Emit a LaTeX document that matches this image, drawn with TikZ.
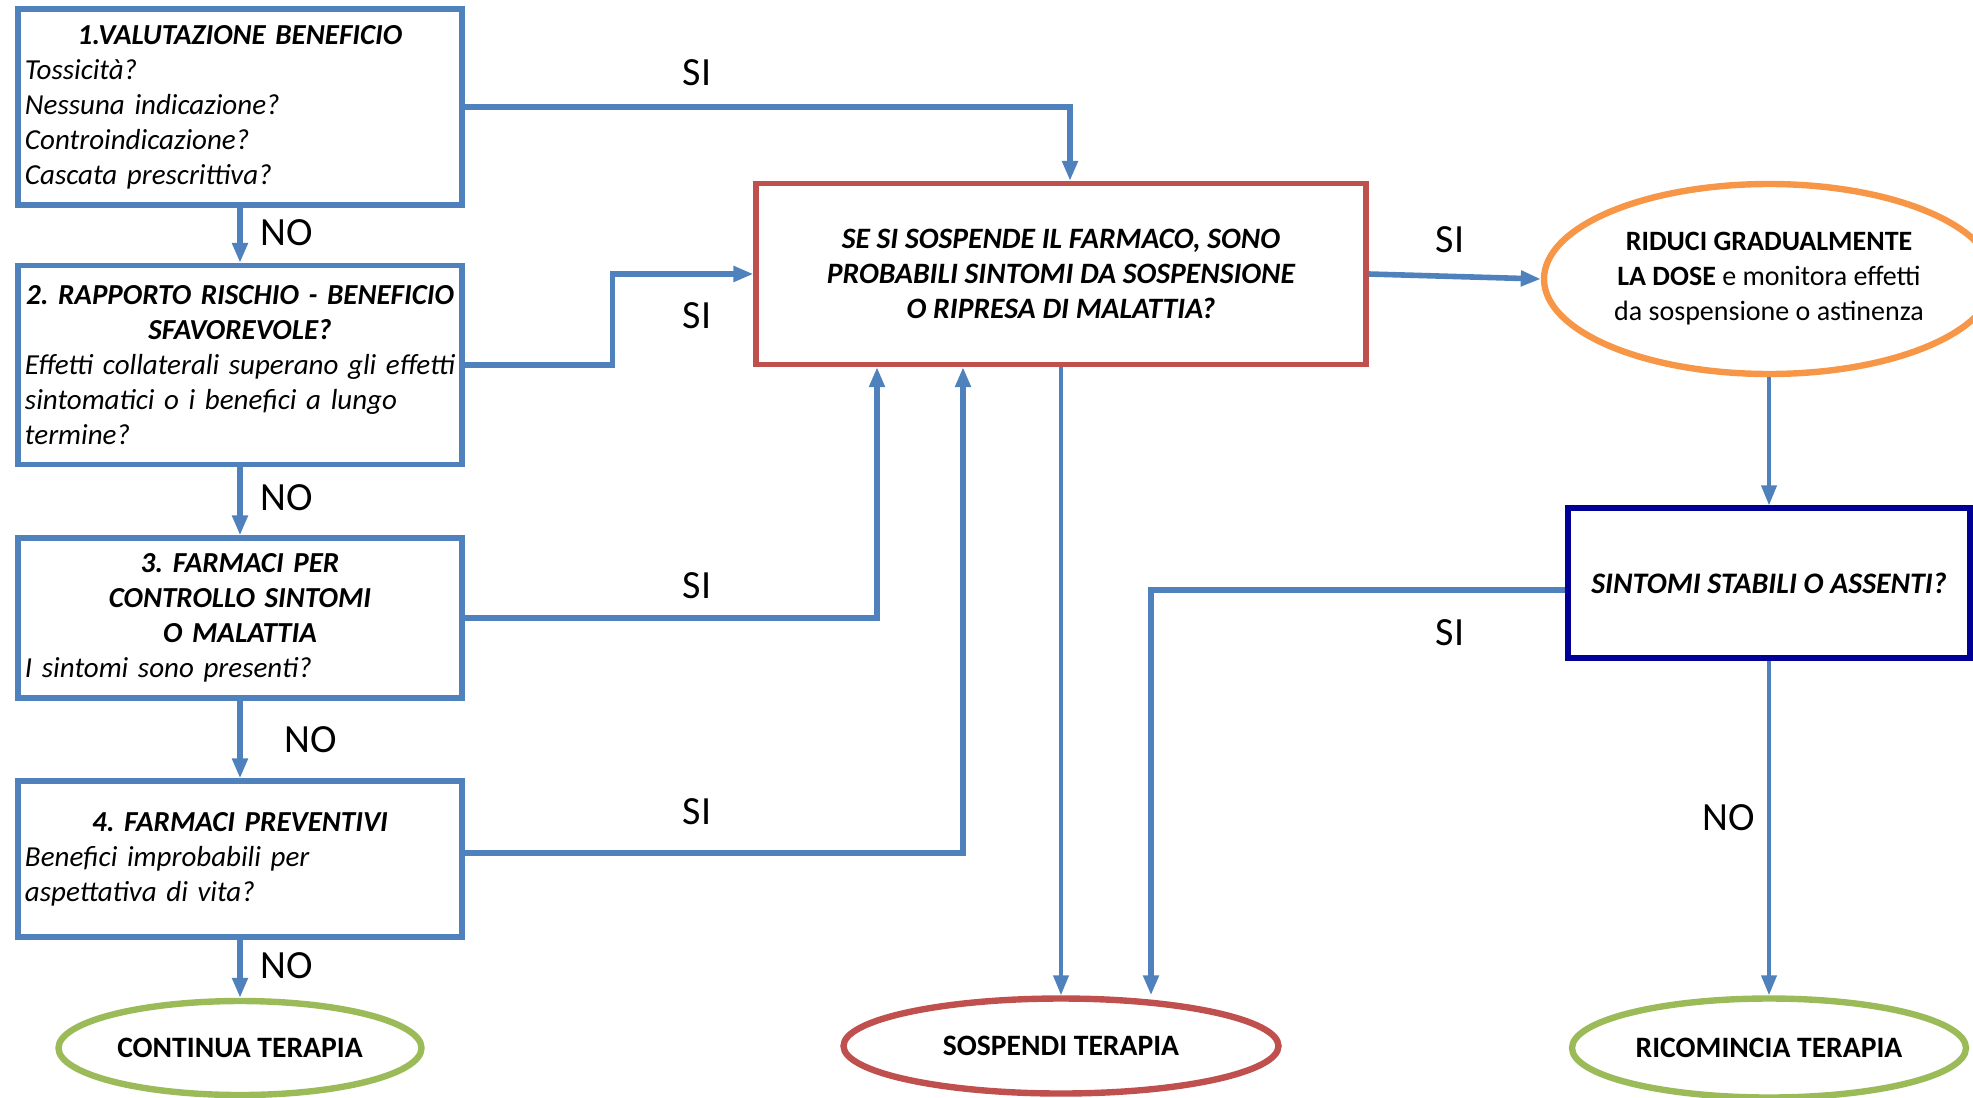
\documentclass[tikz,border=0pt]{standalone}
\usepackage{fontspec}
\setmainfont{Carlito}
\usetikzlibrary{arrows.meta,shapes.geometric}
\frenchspacing

\definecolor{linkblue}{RGB}{79,129,189}
\definecolor{stopred}{RGB}{192,80,77}
\definecolor{goodgreen}{RGB}{155,187,89}
\definecolor{doseorange}{RGB}{247,150,70}
\definecolor{checknavy}{RGB}{0,0,150}

\newcommand{\boxtitle}[1]{\makebox[\linewidth]{\bfseries #1}}

\tikzset{
  qbox/.style={draw=linkblue, line width=2.6pt, rectangle, minimum width=222pt,
    text width=215pt, inner sep=3.5pt, align=left,
    font=\fontsize{14.5}{17.5}\selectfont\itshape},
  endnode/.style={ellipse, line width=3.2pt, inner sep=0pt,
    font=\fontsize{14.8}{17}\selectfont\bfseries},
  link/.style={draw=linkblue, line width=2.8pt, -{Triangle[length=10pt,width=7.5pt]}},
  thinlink/.style={link, line width=2pt},
  answer/.style={font=\fontsize{20}{23}\selectfont}
}

\begin{document}
\begin{tikzpicture}[x=0.5pt,y=-0.5pt]
  \useasboundingbox (0,0) rectangle (1973,1097);

  % question boxes on the left
  \node[qbox, minimum height=98pt] (b1) at (240,107)
    {\boxtitle{1.VALUTAZIONE BENEFICIO}\\
     Tossicità?\\ Nessuna indicazione?\\ Controindicazione?\\ Cascata prescrittiva?};
  \node[qbox, minimum height=99.5pt] (b2) at (240,365)
    {\boxtitle{2. RAPPORTO RISCHIO - BENEFICIO}\\
     \boxtitle{SFAVOREVOLE?}\\
     \mbox{Effetti collaterali superano gli effetti}\\ sintomatici o i benefici a lungo\\ termine?};
  \node[qbox, minimum height=80pt] (b3) at (240,618)
    {\boxtitle{3. FARMACI PER}\\
     \boxtitle{CONTROLLO SINTOMI}\\
     \boxtitle{O MALATTIA}\\
     I sintomi sono presenti?};
  \node[qbox, minimum height=78pt] (b4) at (240,859)
    {\boxtitle{4. FARMACI PREVENTIVI}\\
     Benefici improbabili per\\ aspettativa di vita?};

  % central question and right column
  \node[draw=stopred, line width=2.6pt, rectangle, minimum width=305pt, minimum height=90.5pt,
    align=center, font=\fontsize{14.8}{17.5}\selectfont\bfseries\itshape] (r) at (1061,274)
    {SE SI SOSPENDE IL FARMACO, SONO\\ PROBABILI SINTOMI DA SOSPENSIONE\\ O RIPRESA DI MALATTIA?};
  \node[draw=doseorange, ellipse, line width=3.2pt, inner sep=0pt, minimum width=225pt,
    minimum height=95pt, align=center, font=\fontsize{14}{17.5}\selectfont] (od) at (1769,279)
    {\textbf{RIDUCI GRADUALMENTE}\\ \textbf{LA DOSE} e monitora effetti\\ da sospensione o astinenza};
  \node[draw=checknavy, line width=2.6pt, rectangle, minimum width=201pt, minimum height=75pt,
    font=\fontsize{14.9}{17.5}\selectfont\bfseries\itshape] (bl) at (1769,583)
    {SINTOMI STABILI O ASSENTI?};

  % outcomes
  \node[endnode, draw=goodgreen, minimum width=181.5pt, minimum height=47pt] (ct) at (240,1048)
    {CONTINUA TERAPIA};
  \node[endnode, draw=stopred, minimum width=217.5pt, minimum height=47.5pt] (so) at (1061,1046)
    {SOSPENDI TERAPIA};
  \node[endnode, draw=goodgreen, minimum width=197pt, minimum height=49.5pt] (rc) at (1769,1048)
    {RICOMINCIA TERAPIA};

  % connectors
  \draw[link] (b1) -- (b2);
  \draw[link] (b2) -- (b3);
  \draw[link] (b3) -- (b4);
  \draw[link] (b4) -- (ct);
  \draw[link] (b1.east) -| ([xshift=4.5pt]r.north);
  \draw[link] (b2.east) -- ++(74pt,0) |- (r.west);
  \draw[link] (b3.east) -| ([xshift=-92pt]r.south);
  \draw[link] ([yshift=3pt]b4.east) -| ([xshift=-49pt]r.south);
  \draw[thinlink] (r) -- (so);
  \draw[link] (r.east) -- (od.west);
  \draw[thinlink] (od) -- (bl);
  \draw[link] ([yshift=-3.5pt]bl.west) -| ([xshift=45pt]so.north);
  \draw[thinlink] (bl) -- (rc);

  % answers
  \node[answer] (si1) at (697,73) {SI};
  \node[answer] (si2) at (697,316) {SI};
  \node[answer] (si3) at (697,586) {SI};
  \node[answer] (si4) at (697,812) {SI};
  \node[answer] (si5) at (1450,240) {SI};
  \node[answer] (si6) at (1450,633) {SI};
  \node[answer] (no1) at (287,233) {NO};
  \node[answer] (no2) at (287,498) {NO};
  \node[answer] (no3) at (311,740) {NO};
  \node[answer] (no4) at (287,966) {NO};
  \node[answer] (no5) at (1729,818) {NO};
\end{tikzpicture}
\end{document}
